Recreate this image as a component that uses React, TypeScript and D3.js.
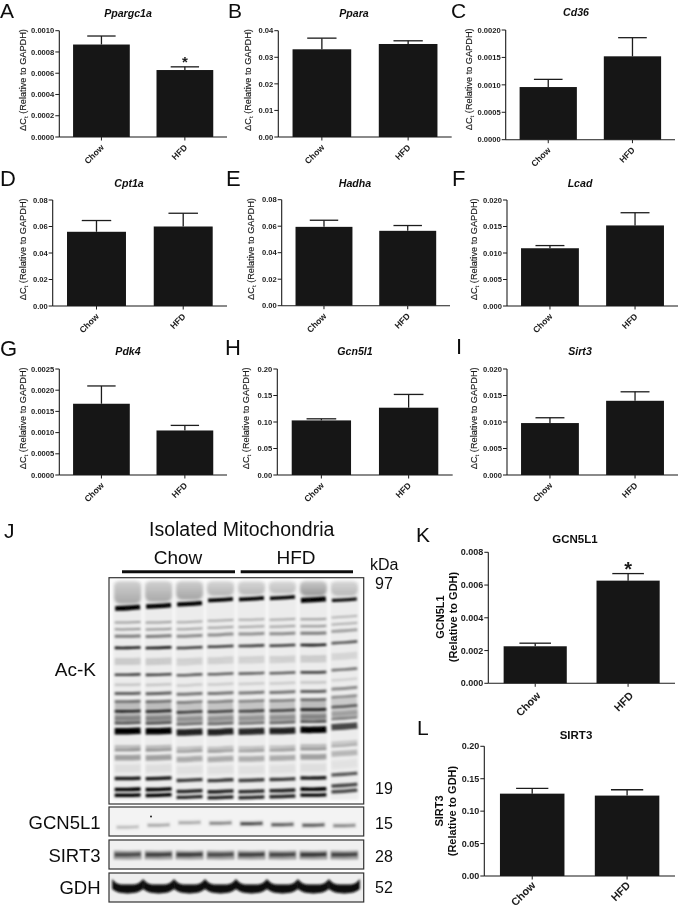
import * as d3 from "d3";

/* ---------- bar panel data ---------- */
const groups = ["Chow", "HFD"];

const letters = ["A", "B", "C", "D", "E", "F", "G", "H", "I"];
const genes = ["Ppargc1a", "Ppara", "Cd36", "Cpt1a", "Hadha", "Lcad", "Pdk4", "Gcn5l1", "Sirt3"];

const geneMeans = [
  [0.00087, 0.00063],
  [0.033, 0.035],
  [0.00096, 0.00152],
  [0.056, 0.06],
  [0.0595, 0.0565],
  [0.0109, 0.0152],
  [0.00168, 0.00105],
  [0.103, 0.127],
  [0.0098, 0.014],
];

// top of the error bar for each bar
const geneUppers = [
  [0.00095, 0.00066],
  [0.0372, 0.0362],
  [0.0011, 0.00186],
  [0.0645, 0.07],
  [0.0645, 0.0605],
  [0.0114, 0.0176],
  [0.0021, 0.00117],
  [0.106, 0.152],
  [0.0108, 0.0157],
];

const geneTicks = [
  ["0.0000", "0.0002", "0.0004", "0.0006", "0.0008", "0.0010"],
  ["0.00", "0.01", "0.02", "0.03", "0.04"],
  ["0.0000", "0.0005", "0.0010", "0.0015", "0.0020"],
  ["0.00", "0.02", "0.04", "0.06", "0.08"],
  ["0.00", "0.02", "0.04", "0.06", "0.08"],
  ["0.000", "0.005", "0.010", "0.015", "0.020"],
  ["0.0000", "0.0005", "0.0010", "0.0015", "0.0020", "0.0025"],
  ["0.00", "0.05", "0.10", "0.15", "0.20"],
  ["0.000", "0.005", "0.010", "0.015", "0.020"],
];

const geneStars = [[false, true]];

const gcnMeans = [0.00226, 0.00627];
const gcnUppers = [0.00245, 0.0067];
const gcnTicks = ["0.000", "0.002", "0.004", "0.006", "0.008"];

const sirtMeans = [0.127, 0.124];
const sirtUppers = [0.135, 0.133];
const sirtTicks = ["0.00", "0.05", "0.10", "0.15", "0.20"];

/* ---------- blot data ---------- */
const lanes = ["1", "2", "3", "4", "5", "6", "7", "8"];

// migration (% of blot height), darkness, thickness
const acKBands = [
  [18.6, 0.34, 2],
  [21.7, 0.38, 2],
  [24.8, 0.48, 3],
  [30, 0.9, 2.6],
  [35.4, 0.14, 4],
  [37, 0.14, 3],
  [42, 0.72, 2.6],
  [46.5, 0.17, 2.5],
  [50.4, 0.6, 3],
  [54, 0.46, 2.6],
  [58.4, 0.85, 2.6],
  [58.5, 0.2, 22],
  [61.5, 0.3, 5],
  [63.7, 0.66, 2.6],
  [67.3, 1, 6.5],
  [74.3, 0.22, 3],
  [75.7, 0.4, 2.6],
  [79.2, 0.32, 5.5],
  [84, 0.06, 8],
  [88.5, 0.9, 3.4],
  [93.4, 1, 3.6],
  [96, 1, 3.4],
];

const topBandMigration = [13.3, 12.4, 11.5, 9.7, 9.3, 8.8, 9.7, 9.7];
const topBandDarkness = [1, 1, 1, 1, 1, 1, 1, 0.95];
const topBandThickness = [4.8, 4.4, 4.2, 3.8, 3.8, 3.6, 5, 3.2];
const topSmearDarkness = [0.8, 0.8, 0.85, 0.65, 0.6, 0.55, 1, 0.6];

const laneShiftUpper = [3, 3, 2, 0, -1, -1, -1, -3];
const laneShiftLower = [0, 0, 2, 2.5, 2.5, 1.5, 0, -4];
const laneTilt = [0.4, 0.8, 1, 1, 0.8, 0.8, 0.3, 1.8];
const laneLoad = [1, 1, 0.85, 0.85, 0.82, 0.85, 1, 0.7];

const gcnBandDark = [0.2, 0.28, 0.28, 0.42, 0.72, 0.62, 0.62, 0.42];
const gcnBandShift = [3.5, 1.5, -1, -0.5, 0, 1, 1.5, 2];
const sirtBandDark = [0.55, 0.62, 0.65, 0.55, 0.62, 0.58, 0.68, 0.6];
const gdhTop = [-8, -3.5, -2.5, -2.5, -2.5, -3.5, -8];
const gdhBottom = [2, 5, 6, 6.5, 6, 5, 2];

/* ---------- layout ---------- */
const font = "'Liberation Sans', Arial, sans-serif";
const ink = "#1c1c1c";

const geneFrames = [
  { x0: 59.3, x1: 227, top: 30.7, bottom: 137, titleX: 128, titleY: 17, labelX: 26, letterX: 0, letterY: 18, letterSize: 21 },
  { x0: 278.3, x1: 451.7, top: 30.7, bottom: 137, titleX: 354, titleY: 17, labelX: 251, letterX: 228, letterY: 18, letterSize: 21 },
  { x0: 505.7, x1: 675, top: 30, bottom: 139.7, titleX: 576, titleY: 16, labelX: 472, letterX: 451, letterY: 18, letterSize: 21 },
  { x0: 52.7, x1: 227, top: 200, bottom: 306, titleX: 129, titleY: 186.7, labelX: 26, letterX: 0, letterY: 186, letterSize: 22 },
  { x0: 281.7, x1: 450, top: 199.7, bottom: 305.7, titleX: 355, titleY: 186.7, labelX: 254, letterX: 226, letterY: 186, letterSize: 22 },
  { x0: 507, x1: 678, top: 200, bottom: 306, titleX: 580, titleY: 186.7, labelX: 477, letterX: 452, letterY: 186, letterSize: 22 },
  { x0: 59.3, x1: 227, top: 369, bottom: 475, titleX: 128, titleY: 355, labelX: 26, letterX: 0, letterY: 356, letterSize: 22 },
  { x0: 277.3, x1: 452.7, top: 369, bottom: 475, titleX: 355, titleY: 355, labelX: 249, letterX: 225, letterY: 355, letterSize: 22 },
  { x0: 507, x1: 678, top: 369, bottom: 475, titleX: 580, titleY: 355, labelX: 477, letterX: 456, letterY: 354, letterSize: 22 },
];

const blot = { x0: 109, x1: 363.7, top: 577.7, bottom: 804 };

const yOf = d3.scaleLinear().domain([0, 100]).range([blot.top, blot.bottom]);
const laneX = d3.scaleBand<string>().domain(lanes).range([113.7, 358.3]).paddingInner(0.1);
const bandLine = d3.line<[number, number]>().x((d) => d[0]).y((d) => d[1]).curve(d3.curveBasis);

function laneBand(lane: string, y: number, tilt: number, inset = 0) {
  const x = laneX(lane)!;
  const w = laneX.bandwidth();
  const pts: [number, number][] = [
    [x + inset, y + tilt / 2],
    [x + w / 2, y + 0.3],
    [x + w - inset, y - tilt / 2],
  ];
  return bandLine(pts)!;
}

/* ---------- bar panels ---------- */
function BarPanel(props: {
  frame: { x0: number; x1: number; top: number; bottom: number };
  means: number[];
  uppers: number[];
  ticks: string[];
  stars?: boolean[];
  tickSize: number;
  xSize: number;
  xShift: [number, number];
  starSize: number;
}) {
  const { frame, means, uppers, ticks, stars, tickSize, xSize, xShift, starSize } = props;
  const x = d3.scaleBand<string>().domain(groups).range([frame.x0, frame.x1]).paddingInner(0.32).paddingOuter(0.165);
  const y = d3.scaleLinear().domain([0, +ticks[ticks.length - 1]]).range([frame.bottom, frame.top]);
  const capHalf = x.bandwidth() / 4;
  return (
    <g fontFamily={font} fill={ink}>
      {groups.map((g, i) => {
        const cx = x(g)! + x.bandwidth() / 2;
        return (
          <g key={g}>
            <line x1={cx} x2={cx} y1={y(means[i])} y2={y(uppers[i])} stroke={ink} strokeWidth={1.3} />
            <line x1={cx - capHalf} x2={cx + capHalf} y1={y(uppers[i])} y2={y(uppers[i])} stroke={ink} strokeWidth={1.3} />
            <rect x={x(g)} y={y(means[i])} width={x.bandwidth()} height={frame.bottom - y(means[i])} fill="#161616" />
            <line x1={cx} x2={cx} y1={frame.bottom} y2={frame.bottom + 3.5} stroke={ink} strokeWidth={1} />
            <text
              transform={`translate(${cx + xShift[0]},${frame.bottom + xShift[1]}) rotate(-45)`}
              textAnchor="end"
              fontSize={xSize}
              fontWeight={700}
            >
              {g}
            </text>
            {stars && stars[i] && (
              <text x={cx} y={y(uppers[i]) - 8.5 + starSize * 0.55} textAnchor="middle" fontSize={starSize} fontWeight={700}>
                *
              </text>
            )}
          </g>
        );
      })}
      <line x1={frame.x0} x2={frame.x1} y1={frame.bottom} y2={frame.bottom} stroke={ink} strokeWidth={1.1} />
      <line x1={frame.x0} x2={frame.x0} y1={frame.top} y2={frame.bottom} stroke={ink} strokeWidth={1.1} />
      {ticks.map((t) => (
        <g key={t}>
          <line x1={frame.x0 - 4} x2={frame.x0} y1={y(+t)} y2={y(+t)} stroke={ink} strokeWidth={1} />
          <text x={frame.x0 - 5} y={y(+t)} dy="0.35em" textAnchor="end" fontSize={tickSize} fontWeight={700}>
            {t}
          </text>
        </g>
      ))}
    </g>
  );
}

function DeltaLabel({ x, y }: { x: number; y: number }) {
  return (
    <text
      transform={`translate(${x},${y}) rotate(-90)`}
      textAnchor="middle"
      fontSize={9.2}
      fontFamily={font}
      fill={ink}
      stroke={ink}
      strokeWidth={0.15}
    >
      {"\u0394C"}
      <tspan dy={2} fontSize={6}>t</tspan>
      <tspan dy={-2}> (Relative to GAPDH)</tspan>
    </text>
  );
}

/* ---------- blot ---------- */
function Membrane({ y0, y1, children, fill = "#f3f3f3", id }: { y0: number; y1: number; children: React.ReactNode; fill?: string; id: string }) {
  return (
    <g>
      <clipPath id={id}>
        <rect x={blot.x0} y={y0} width={blot.x1 - blot.x0} height={y1 - y0} />
      </clipPath>
      <rect x={blot.x0} y={y0} width={blot.x1 - blot.x0} height={y1 - y0} fill={fill} />
      <g clipPath={`url(#${id})`}>{children}</g>
      <rect x={blot.x0} y={y0} width={blot.x1 - blot.x0} height={y1 - y0} fill="none" stroke="#333" strokeWidth={1.2} />
    </g>
  );
}

function AcKBlot() {
  return (
    <Membrane y0={blot.top} y1={blot.bottom} fill="#fcfcfc" id="ack">
      <g filter="url(#soft)">
        {lanes.map((l) => (
          <rect key={l} x={laneX(l)! - 0.5} y={blot.top + 4} width={laneX.bandwidth() + 1} height={blot.bottom - blot.top - 8} fill="#ececec" />
        ))}
      </g>
      <g filter="url(#soft)">
        {lanes.map((l, i) => {
          const bandY = yOf(topBandMigration[i]);
          return (
            <rect
              key={l}
              x={laneX(l)! + 0.5}
              y={blot.top + 3}
              width={laneX.bandwidth() - 1}
              height={bandY - blot.top - 7}
              rx={6}
              fill="url(#smear)"
              opacity={topSmearDarkness[i]}
            />
          );
        })}
      </g>
      <g filter="url(#band)" fill="none" stroke="#000" strokeLinecap="butt">
        {lanes.map((l, i) => (
          <g key={l}>
            <path
              d={laneBand(l, yOf(topBandMigration[i]), 1.5, 1.5)}
              strokeWidth={topBandThickness[i]}
              opacity={topBandDarkness[i]}
            />
            {acKBands.map(([m, dark, th]) => {
              const shift = d3.interpolateNumber(laneShiftUpper[i], laneShiftLower[i])(m / 100);
              return (
                <path
                  key={`${m}-${th}`}
                  d={laneBand(l, yOf(m) + shift, laneTilt[i], 1)}
                  strokeWidth={th}
                  opacity={dark * laneLoad[i]}
                />
              );
            })}
          </g>
        ))}
      </g>
    </Membrane>
  );
}

function GcnBlot() {
  return (
    <Membrane y0={807} y1={836} id="gcn">
      <g filter="url(#band)" fill="none" stroke="#000">
        {lanes.map((l, i) => (
          <g key={l}>
            <path d={laneBand(l, 823.5 + gcnBandShift[i], 0.5, 2)} strokeWidth={6} opacity={gcnBandDark[i] * 0.2} />
            <path d={laneBand(l, 823.5 + gcnBandShift[i], 0.5, 3)} strokeWidth={2.4} opacity={gcnBandDark[i]} />
          </g>
        ))}
      </g>
      <circle cx={151} cy={816.5} r={1} fill="#222" />
    </Membrane>
  );
}

function SirtBlot() {
  return (
    <Membrane y0={840} y1={869} fill="#f0f0f0" id="sirt">
      <g filter="url(#band)" fill="none" stroke="#000">
        {lanes.map((l, i) => (
          <g key={l}>
            <path d={laneBand(l, 855, 0, 0)} strokeWidth={9} opacity={0.34} />
            <path d={laneBand(l, 854.5, 0.4, 1)} strokeWidth={3.4} opacity={sirtBandDark[i]} />
          </g>
        ))}
      </g>
    </Membrane>
  );
}

function GdhBlot() {
  const yMid = 887;
  const gap = laneX.step() - laneX.bandwidth();
  const gdhArea = d3
    .area<number>()
    .x((_, k) => k * (laneX.step() / (gdhTop.length - 1)))
    .y0((_, k) => yMid + gdhBottom[k])
    .y1((_, k) => yMid + gdhTop[k])
    .curve(d3.curveMonotoneX);
  return (
    <Membrane y0={873} y1={902} fill="#eeeeee" id="gdh">
      <g filter="url(#band)" fill="#0c0c0c">
        {lanes.map((l) => (
          <path key={l} transform={`translate(${laneX(l)! - gap / 2},0)`} d={gdhArea(gdhTop)!} />
        ))}
      </g>
    </Membrane>
  );
}

/* ---------- page ---------- */
export default function App() {
  const sans = { fontFamily: font, fill: "#111" };
  const rightLabels = [
    ["GCN5L1", 829],
    ["SIRT3", 862],
    ["GDH", 894],
  ] as const;
  const sizeLabels = [
    ["97", 589],
    ["19", 794],
    ["15", 829],
    ["28", 862],
    ["52", 893],
  ] as const;
  return (
    <svg
      width={678}
      height={908}
      viewBox="0 0 678 908"
      style={{ position: "absolute", left: 0, top: 0, background: "#fff" }}
    >
      <defs>
        <filter id="soft" x="-10%" y="-10%" width="120%" height="120%">
          <feGaussianBlur stdDeviation={1.6} />
        </filter>
        <filter id="band" filterUnits="userSpaceOnUse" x="100" y="570" width="270" height="340">
          <feGaussianBlur stdDeviation={1} />
        </filter>
        <filter id="page" filterUnits="userSpaceOnUse" x="0" y="0" width="678" height="908">
          <feGaussianBlur stdDeviation={0.3} />
        </filter>
        <linearGradient id="smear" x1="0" x2="0" y1="0" y2="1">
          <stop offset="0" stopColor="#000" stopOpacity={0.14} />
          <stop offset="1" stopColor="#000" stopOpacity={0.36} />
        </linearGradient>
      </defs>

      <g filter="url(#page)">
        {genes.map((gene, i) => {
          const f = geneFrames[i];
          return (
            <g key={gene}>
              <text x={f.letterX} y={f.letterY} fontSize={f.letterSize} {...sans}>
                {letters[i]}
              </text>
              <text x={f.titleX} y={f.titleY} textAnchor="middle" fontSize={10.6} fontWeight={700} fontStyle="italic" {...sans}>
                {gene}
              </text>
              <DeltaLabel x={f.labelX} y={80 + (f.top - 30.7)} />
              <BarPanel
                frame={f}
                means={geneMeans[i]}
                uppers={geneUppers[i]}
                ticks={geneTicks[i]}
                stars={geneStars[i]}
                tickSize={7.6}
                xSize={8.6}
                xShift={[3, 11]}
                starSize={15}
              />
            </g>
          );
        })}

        {/* K and L */}
        <text x={416} y={542} fontSize={21} {...sans}>K</text>
        <text x={575} y={543} textAnchor="middle" fontSize={11.5} fontWeight={700} {...sans}>GCN5L1</text>
        <text transform="translate(444,617) rotate(-90)" textAnchor="middle" fontSize={11} fontWeight={700} {...sans}>
          GCN5L1
        </text>
        <text transform="translate(457,617) rotate(-90)" textAnchor="middle" fontSize={11} fontWeight={700} {...sans}>
          (Relative to GDH)
        </text>
        <BarPanel
          frame={{ x0: 488.3, x1: 675, top: 552.3, bottom: 683.3 }}
          means={gcnMeans}
          uppers={gcnUppers}
          ticks={gcnTicks}
          stars={[false, true]}
          tickSize={9}
          xSize={10.8}
          xShift={[6, 13]}
          starSize={20}
        />

        <text x={417} y={735} fontSize={21} {...sans}>L</text>
        <text x={576} y={739} textAnchor="middle" fontSize={11.5} fontWeight={700} {...sans}>SIRT3</text>
        <text transform="translate(443,811) rotate(-90)" textAnchor="middle" fontSize={11} fontWeight={700} {...sans}>
          SIRT3
        </text>
        <text transform="translate(456,811) rotate(-90)" textAnchor="middle" fontSize={11} fontWeight={700} {...sans}>
          (Relative to GDH)
        </text>
        <BarPanel
          frame={{ x0: 484.3, x1: 675, top: 746.3, bottom: 876 }}
          means={sirtMeans}
          uppers={sirtUppers}
          ticks={sirtTicks}
          tickSize={9}
          xSize={10.8}
          xShift={[4, 10]}
          starSize={20}
        />

        {/* J blot */}
        <text x={4} y={538} fontSize={21} {...sans}>J</text>
        <text x={241.7} y={535.7} textAnchor="middle" fontSize={19.5} {...sans}>Isolated Mitochondria</text>
        <text x={178} y={564} textAnchor="middle" fontSize={19} {...sans}>Chow</text>
        <text x={296} y={564} textAnchor="middle" fontSize={19} {...sans}>HFD</text>
        <line x1={122} x2={235} y1={571.7} y2={571.7} stroke="#111" strokeWidth={3} />
        <line x1={240.7} x2={353} y1={571.7} y2={571.7} stroke="#111" strokeWidth={3} />
        <text x={370} y={570} fontSize={16} {...sans}>kDa</text>
        {sizeLabels.map(([t, y]) => (
          <text key={t} x={375} y={y} fontSize={16} {...sans}>{t}</text>
        ))}
        <text x={96} y={676} textAnchor="end" fontSize={19} {...sans}>Ac-K</text>
        {rightLabels.map(([t, y]) => (
          <text key={t} x={100.5} y={y} textAnchor="end" fontSize={18.5} {...sans}>{t}</text>
        ))}

        <AcKBlot />
        <GcnBlot />
        <SirtBlot />
        <GdhBlot />
      </g>
    </svg>
  );
}
